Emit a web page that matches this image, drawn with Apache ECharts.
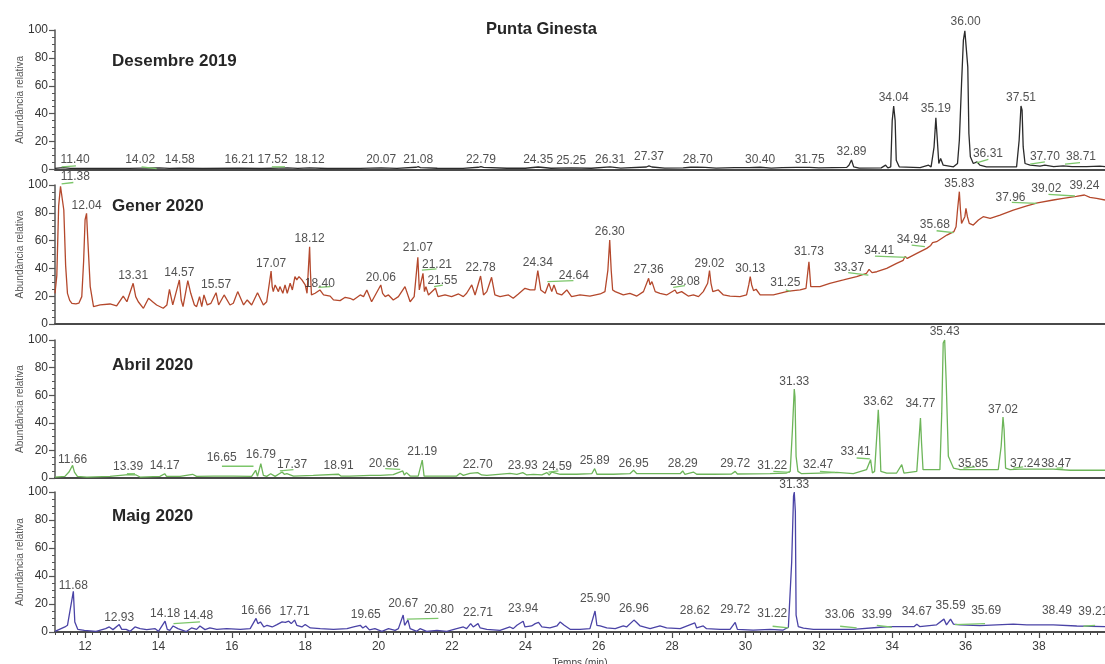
<!DOCTYPE html>
<html>
<head>
<meta charset="utf-8">
<script src="https://cdn.jsdelivr.net/npm/echarts@6/dist/echarts.min.js"></script>
<style>
  html, body { margin: 0; padding: 0; background: #ffffff; }
  #chart { width: 1105px; height: 664px; }
</style>
</head>
<body>
<div id="chart"></div>
<script>
// ---------- data ----------
const timeTicks = [12, 14, 16, 18, 20, 22, 24, 26, 28, 30, 32, 34, 36, 38];
const panelNames = ['Desembre 2019', 'Gener 2020', 'Abril 2020', 'Maig 2020'];

// [time (min), relative abundance]
const dec2019Trace = [
  [11.18,0.8],[11.40,1.3],[11.60,0.8],[12.50,0.7],[13.20,0.8],[14.02,1.2],[14.30,0.8],[14.58,1.0],
  [15.20,0.7],[16.21,1.0],[16.80,0.7],[17.52,1.1],[17.80,0.8],[18.12,1.2],[18.60,0.7],[19.50,0.8],
  [20.07,1.2],[20.50,0.8],[21.02,1.6],[21.08,2.0],[21.14,1.4],[21.60,0.9],[22.30,0.8],[22.72,1.6],
  [22.79,2.0],[22.86,1.5],[23.50,0.9],[24.00,0.9],[24.35,1.8],[24.70,0.9],[25.25,1.2],[25.80,0.9],
  [26.31,1.9],[26.60,1.0],[27.30,1.8],[27.37,2.6],[27.45,1.8],[27.80,1.0],[28.30,1.2],[28.50,1.6],
  [28.70,1.7],[28.90,1.5],[29.20,1.0],[29.70,1.3],[30.10,1.4],[30.40,1.6],[30.70,1.0],[31.00,1.4],
  [31.40,1.5],[31.75,1.5],[32.00,1.2],[32.40,1.4],[32.76,1.5],[32.82,3.1],[32.89,6.8],[32.95,1.9],
  [33.10,1.0],[33.70,1.2],[33.82,3.1],[33.88,1.2],[33.96,1.9],[34.00,35],[34.04,45.5],[34.08,35],
  [34.11,6.7],[34.19,1.9],[34.76,1.4],[34.99,3.1],[35.06,1.9],[35.14,16],[35.19,37],[35.23,21],
  [35.27,4.3],[35.32,7.9],[35.39,3.1],[35.67,1.9],[35.78,4.3],[35.83,21],[35.89,61.6],[35.94,92.7],
  [35.98,99.4],[36.00,100],[36.03,99],[36.06,73.6],[36.09,25.8],[36.13,9.1],[36.21,4.3],[36.31,5.5],
  [36.39,3.1],[36.57,1.9],[37.39,1.9],[37.46,21],[37.51,45.5],[37.54,42.5],[37.57,16.2],[37.62,4.3],
  [37.76,3.1],[38.03,2.4],[38.16,3.1],[38.40,2.0],[38.66,2.6],[38.90,2.0],[39.30,2.0],[39.66,2.4],[39.80,2.0]
];
const dec2019Peaks = [
  [11.40,0.5],[14.02,0.5],[14.58,0.5],[16.21,0.5],[17.52,0.5],[18.12,0.5],[20.07,0.5],[21.08,0.5],
  [22.79,0.5],[24.35,0.5],[25.25,0],[26.31,0.5],[27.37,2.4],[28.70,0.5],[30.40,0.5],[31.75,0.5],
  [32.89,6],[34.04,45.3],[35.19,36.9],[36.00,99.5],[36.31,4.7],[37.51,45.3],[37.70,2.7],[38.71,2.7]
];
// integration baselines: [t1, v1, t2, v2]
const dec2019Marks = [
  [11.36,1.9,11.75,2.6],[13.54,1.9,13.95,0.7],[17.09,1.9,17.45,1.9],
  [36.30,4.8,36.62,7.2],[37.76,3.8,38.16,5.5],[38.71,3.8,39.12,5.0]
];

const gen2020Trace = [
  [11.18,22],[11.23,35],[11.28,85],[11.33,99],[11.38,100],[11.42,82],[11.47,42],[11.52,22],[11.58,17],
  [11.64,14.9],[11.75,14.5],[11.83,15],[11.91,19.7],[11.96,45],[12.00,75],[12.04,79.6],[12.07,62.8],
  [12.14,26.9],[12.23,12.5],[12.41,13.7],[12.68,14.4],[12.86,13],[13.04,20.1],[13.14,16],[13.31,29.3],
  [13.38,19.7],[13.45,16],[13.59,11.3],[13.73,18.5],[13.84,16],[13.95,13.7],[14.13,11.3],[14.23,13.7],
  [14.30,24.9],[14.39,13.7],[14.45,19.7],[14.57,31.7],[14.62,17.3],[14.67,12.5],[14.80,31.2],[14.88,22.1],
  [14.98,13.7],[15.04,12.5],[15.12,19.7],[15.18,12.5],[15.24,20.9],[15.33,13.7],[15.43,14.9],[15.57,22.5],
  [15.64,13.7],[15.79,20.9],[15.95,13.7],[16.04,14.9],[16.16,23.3],[16.32,13.7],[16.42,17.3],[16.54,13.7],
  [16.70,22.5],[16.86,13.7],[16.95,16],[17.07,38.1],[17.10,26.9],[17.13,23.3],[17.18,28.1],[17.27,23.3],
  [17.31,26.9],[17.39,22.1],[17.45,28.1],[17.51,22.1],[17.59,29.3],[17.65,24.5],[17.72,34.1],[17.77,31.7],
  [17.83,34.1],[17.91,31.7],[17.95,32.9],[18.00,28.1],[18.05,22.1],[18.12,55.6],[18.14,38.8],[18.17,20.9],
  [18.27,22.1],[18.40,24.5],[18.50,20.9],[18.68,20.1],[18.77,17.3],[18.95,16.8],[19.09,19.2],[19.22,18.5],
  [19.31,17.3],[19.50,20.9],[19.59,19.7],[19.68,24.5],[19.81,16],[20.06,28.1],[20.11,22.1],[20.18,19.7],
  [20.27,20.9],[20.40,17.3],[20.54,19.7],[20.72,26.9],[20.86,16],[20.97,19.7],[21.07,48],[21.11,24.5],
  [21.21,36.5],[21.25,23.3],[21.29,26.9],[21.36,20.9],[21.55,25.7],[21.62,19.7],[21.81,20.9],[21.99,19.7],
  [22.18,21.6],[22.31,19.7],[22.40,22.1],[22.54,28.1],[22.63,20.9],[22.78,34.5],[22.86,20.9],[22.95,23.3],
  [23.08,33.6],[23.17,20.9],[23.31,19.7],[23.54,20.9],[23.67,18.5],[23.81,21.6],[23.99,25.7],[24.13,24.5],
  [24.26,24.5],[24.34,38.4],[24.42,24.5],[24.54,22.1],[24.64,29.3],[24.72,23.3],[24.78,28.1],[24.86,22.1],
  [24.99,20.9],[25.13,24.5],[25.26,19.7],[25.49,20.9],[25.76,20.1],[26.04,21.6],[26.17,23.3],[26.25,38.8],
  [26.30,60.4],[26.34,38.8],[26.38,24.5],[26.45,23.3],[26.67,20.9],[26.85,22.1],[27.04,20.1],[27.22,23.3],
  [27.36,32.9],[27.40,28.1],[27.45,30.5],[27.54,23.3],[27.67,22.1],[27.85,20.9],[28.08,24.5],[28.13,22.1],
  [28.26,23.3],[28.44,20.1],[28.58,20.9],[28.72,19.7],[28.85,23.3],[28.97,29.3],[29.02,38.4],[29.06,29.3],
  [29.11,23.3],[29.26,24.5],[29.40,20.9],[29.58,20.1],[29.85,19.7],[30.03,20.9],[30.09,28.1],[30.13,34.1],
  [30.17,28.1],[30.22,24],[30.29,25],[30.40,20.9],[30.76,20.9],[31.12,23.3],[31.25,23.8],[31.49,24.5],
  [31.65,25.7],[31.73,44.8],[31.78,26.9],[32.03,26.9],[32.30,29.3],[32.67,31.7],[33.03,34.1],[33.30,36.5],
  [33.37,39.3],[33.45,37],[33.58,37.6],[33.85,40],[34.12,43.6],[34.30,45.8],[34.35,48.5],[34.41,47.2],
  [34.67,50.8],[34.94,54.4],[35.05,56.5],[35.10,58.5],[35.21,59.2],[35.49,64],[35.68,66.4],[35.74,70],
  [35.78,82],[35.83,95.2],[35.86,82],[35.89,72.4],[35.94,71.2],[35.98,77.2],[36.01,83.2],[36.05,77.2],
  [36.10,72.4],[36.21,71.2],[36.35,74.8],[36.48,77.2],[36.67,76],[36.94,78.4],[37.30,82],[37.67,84.9],
  [37.96,87.2],[38.39,89.2],[38.66,90.4],[39.02,91.8],[39.24,92.8],[39.39,91.1],[39.57,90.4],[39.80,89.2]
];
const gen2020Peaks = [
  [11.38,99.5],[12.04,79],[13.31,28],[14.57,30.4],[15.57,22],[17.07,37.2],[18.12,54.7],[18.40,22.8],
  [20.06,27.1],[21.07,48.7],[21.21,36.5],[21.55,24.5],[22.78,34.3],[24.34,37.6],[24.64,28.3],[26.30,59.9],
  [27.36,32.4],[28.08,24],[29.02,36.7],[30.13,33.6],[31.25,23.2],[31.73,45.5],[33.37,34],[34.41,46],
  [34.94,54],[35.68,64.7],[35.83,94.7],[37.96,84.7],[39.02,90.6],[39.24,92.8]
];
const gen2020Marks = [
  [11.36,100.8,11.68,101.8],[18.36,26.4,18.68,26.9],[21.18,38.8,21.58,39.6],[21.51,26.9,21.75,28],
  [24.60,30.5,25.31,31.2],[28.03,26.4,28.35,27.6],[31.10,24.5,31.22,23.5],[32.80,36.9,33.35,35.2],
  [33.53,48.9,34.39,48],[34.53,56.8,34.89,55.6],[35.21,67.1,35.67,65.7],[37.26,87.5,37.94,86.8],
  [38.26,93.3,38.98,92.1]
];

const abr2020Trace = [
  [11.18,0.7],[11.45,1.2],[11.56,4.3],[11.66,9.2],[11.71,4.3],[11.79,1.2],[12.05,0.7],[12.68,1.2],
  [13.18,2.4],[13.39,2.2],[13.50,0.7],[14.04,1.2],[14.17,3.1],[14.22,1.2],[14.59,1.2],[14.93,2.7],
  [15.04,1.2],[15.50,1.4],[16.04,1.4],[16.54,1.2],[16.65,5.6],[16.70,1.2],[16.79,10.4],[16.86,1.9],
  [16.95,1.2],[17.06,3.1],[17.18,1.2],[17.37,4.3],[17.43,2.7],[17.50,3.1],[17.68,1.4],[18.22,1.9],
  [18.91,2.7],[18.97,1.4],[19.22,1.4],[19.77,1.9],[20.04,1.9],[20.40,2.4],[20.66,5.1],[20.70,2.2],
  [20.76,3.9],[20.86,1.4],[21.08,1.4],[21.19,13],[21.24,1.4],[22.13,1.4],[22.22,3.4],[22.31,1.9],
  [22.49,3.4],[22.70,3.9],[22.81,2.2],[22.95,1.9],[23.58,3.4],[23.77,2.7],[23.93,3.9],[24.04,2.2],
  [24.22,2.7],[24.45,2.2],[24.59,3.9],[24.65,2.2],[24.72,4.3],[24.95,2.7],[25.40,2.7],[25.81,3.1],
  [25.89,6.8],[25.95,2.7],[26.40,2.7],[26.85,3.1],[26.95,5.6],[27.04,3.1],[27.67,3.1],[28.22,3.1],
  [28.29,5.1],[28.35,2.7],[28.58,4.3],[28.67,2.7],[29.13,2.7],[29.62,2.9],[29.72,4.8],[29.78,2.9],
  [30.67,3.1],[31.12,3.6],[31.22,4.8],[31.28,35],[31.33,64.5],[31.35,59],[31.38,15.7],[31.43,4.8],
  [31.53,3.1],[32.03,3.6],[32.49,4.1],[32.94,3.1],[33.30,6],[33.41,13.3],[33.46,3.6],[33.52,4.8],
  [33.59,35],[33.62,49.5],[33.65,35],[33.69,4.8],[33.85,3.6],[34.12,3.6],[34.26,9.7],[34.32,3.6],
  [34.67,4.8],[34.73,27.8],[34.77,43.5],[34.80,25.4],[34.84,6],[35.30,6],[35.35,47],[35.39,97.8],
  [35.43,100],[35.47,71],[35.53,15.7],[35.67,7.2],[35.85,6],[36.57,6],[36.89,6],[36.97,23],
  [37.02,44.2],[37.05,35],[37.09,7.2],[37.21,6],[37.48,6.5],[38.39,6.5],[38.85,5.6],[39.80,5.6]
];
const abr2020Peaks = [
  [11.66,7],[13.39,1.7],[14.17,2.2],[16.65,8.2],[16.79,10.1],[17.37,3],[18.91,2.2],[20.66,3.6],
  [21.19,12.5],[22.70,2.9],[23.93,2.2],[24.59,1.7],[25.89,6],[26.95,4.1],[28.29,4.1],[29.72,3.6],
  [31.22,2.2],[31.33,63.3],[32.47,2.9],[33.41,12.5],[33.62,48.8],[34.77,47],[35.43,99.5],[35.85,3.6],
  [37.02,43.3],[37.24,4.1],[38.47,4.1]
];
const abr2020Marks = [
  [13.14,3.1,13.36,3.1],[15.73,8.5,16.59,8.5],[17.31,5.1,17.68,6.0],[20.18,6.8,20.59,6.3],
  [24.63,4.3,24.90,5.1],[30.76,4.8,31.21,4.1],[32.03,4.8,32.44,4.1],[33.03,14.5,33.39,13.8],
  [35.94,7.2,36.26,8.0],[37.30,7.2,37.57,8.0],[38.48,7.2,38.66,7.4]
];

const maig2020Trace = [
  [11.18,0.5],[11.45,3.6],[11.52,4.8],[11.68,29],[11.72,7.2],[11.80,1.9],[11.98,1.2],[12.30,0.5],
  [12.56,2.4],[12.66,3.6],[12.76,1.7],[12.93,5.3],[13.00,1.9],[13.12,1.9],[13.23,0.5],[13.36,3.6],
  [13.50,2.4],[13.68,1.7],[13.91,2.4],[14.00,0.5],[14.18,7.7],[14.24,1.9],[14.31,1.2],[14.40,4.3],
  [14.53,2.4],[14.76,0.3],[14.90,2.9],[15.04,1.9],[15.13,4.3],[15.27,1.7],[15.40,2.9],[15.59,1.9],
  [15.86,2.4],[16.23,1.9],[16.50,2.4],[16.66,9.7],[16.71,6.0],[16.78,7.2],[16.87,3.6],[16.96,4.8],
  [17.10,3.6],[17.23,5.3],[17.37,7.2],[17.46,6.8],[17.55,7.7],[17.62,6.0],[17.71,8.5],[17.77,4.8],
  [17.91,3.6],[18.00,5.3],[18.14,2.9],[18.41,2.4],[18.77,1.9],[19.14,2.4],[19.32,3.6],[19.50,4.8],
  [19.57,2.9],[19.65,4.3],[19.75,1.5],[19.90,2.4],[20.09,0.5],[20.27,2.4],[20.45,1.2],[20.54,2.4],
  [20.67,12.1],[20.71,4.8],[20.80,8.5],[20.86,2.4],[21.04,0.5],[21.13,2.4],[21.31,0.5],[21.59,1.2],
  [21.86,0.5],[22.13,2.4],[22.31,3.6],[22.40,2.4],[22.51,6.0],[22.58,3.6],[22.71,6.0],[22.77,2.9],
  [22.95,1.9],[23.31,1.2],[23.58,3.6],[23.67,2.4],[23.77,4.8],[23.94,7.7],[23.99,3.6],[24.17,4.3],
  [24.27,6.0],[24.36,6.8],[24.45,3.6],[24.67,2.9],[24.86,4.3],[24.95,7.2],[25.06,4.8],[25.22,1.9],
  [25.49,1.9],[25.76,2.4],[25.90,15],[25.95,4.8],[26.04,4.3],[26.22,2.9],[26.45,2.4],[26.67,4.3],
  [26.76,3.6],[26.96,8.5],[27.02,7.2],[27.13,4.3],[27.40,2.4],[27.67,4.3],[27.85,2.9],[28.22,2.4],
  [28.62,6.5],[28.67,2.9],[28.85,4.3],[28.94,2.4],[29.31,1.9],[29.58,1.9],[29.72,6.8],[29.78,1.9],
  [30.21,1.4],[30.67,1.9],[31.03,1.4],[31.17,3.4],[31.26,50],[31.31,97],[31.33,100],[31.36,86],
  [31.38,12],[31.44,3.9],[31.58,2.7],[31.85,1.9],[32.94,1.9],[33.67,3.4],[33.94,3.9],[34.30,3.9],
  [34.60,3.9],[34.67,5.6],[34.75,3.9],[35.21,5.1],[35.41,9.2],[35.48,5.1],[35.59,9.2],[35.67,5.6],
  [35.85,5.1],[36.39,4.6],[37.30,5.6],[37.67,5.1],[38.39,5.1],[39.03,4.3],[39.80,3.9]
];
const maig2020Peaks = [
  [11.68,26.4],[12.93,3.8],[14.18,6.9],[14.48,5.2],[16.66,8.6],[17.71,8.1],[19.65,6.2],[20.67,14.1],
  [20.80,9.3],[22.71,7.6],[23.94,10],[25.90,17.1],[26.96,10],[28.62,8.6],[29.72,9.3],[31.22,6.9],
  [31.33,99],[33.06,6.2],[33.99,6.2],[34.67,8.1],[35.59,12.4],[35.69,8.6],[38.49,8.6],[39.21,8.1]
];
const maig2020Marks = [
  [14.41,6.0,15.13,7.2],[20.77,9.2,21.63,9.7],[30.74,4.1,31.17,2.9],[32.58,4.1,33.03,2.9],
  [33.58,4.8,33.99,3.4],[35.71,5.3,36.53,6.0],[39.21,4.1,39.53,4.8]
];

// ---------- layout & style ----------
const FONT = '"Liberation Sans", Arial, sans-serif';
const X_MIN = 11.18, X_MAX = 39.8;
const frames = [
  { top: 30, height: 139.5 },
  { top: 185, height: 139 },
  { top: 340, height: 138 },
  { top: 492, height: 140 }
];
const nameTops = [53, 198, 356.5, 508];
const traceColors = ['#2b2b2b', '#b4482c', '#6db559', '#4a43a6'];
const markColor = '#7cc66a';
const textColor = '#262626';
// horizontal pixel nudges for crowded peak labels
const labelShift = [
  { '11.40': 12, '14.02': -19, '17.52': -15, '36.31': 11, '37.70': 17, '38.71': 16 },
  { '11.38': 13, '21.21': 14, '21.55': 7, '24.64': 25, '28.08': 10, '31.25': -6, '33.37': -20,
    '34.41': -28, '34.94': -15, '35.68': -19, '37.96': -27, '39.02': -30 },
  { '13.39': -8, '16.65': -34, '17.37': 10, '20.66': -19, '24.59': 10, '31.22': -18, '32.47': -18,
    '33.41': -15, '35.85': 13, '37.24': 14 },
  { '14.48': 22, '20.80': 31, '31.22': -18, '33.06': -18, '33.99': -15, '35.69': 32, '39.21': 10 }
];

const traces = [dec2019Trace, gen2020Trace, abr2020Trace, maig2020Trace];
const peaks = [dec2019Peaks, gen2020Peaks, abr2020Peaks, maig2020Peaks];
const marks = [dec2019Marks, gen2020Marks, abr2020Marks, maig2020Marks];

const minorTimeTicks = [];
for (let k = 56; k <= 199; k++) minorTimeTicks.push(Math.round(k * 20) / 100);

const grid = [], xAxis = [], yAxis = [], series = [];
const title = [{
  text: 'Punta Ginesta', left: 486, top: 20.5, padding: 0,
  textStyle: { fontFamily: FONT, fontSize: 16.5, fontWeight: 'bold', color: textColor, lineHeight: 17 }
}];

frames.forEach((f, i) => {
  grid.push({ left: 55, right: 0, top: f.top, height: f.height, containLabel: false, outerBoundsMode: 'none' });
  const bottom = i === 3;
  xAxis.push({
    type: 'value', gridIndex: i, min: X_MIN, max: X_MAX, position: 'bottom',
    axisLine: { show: true, lineStyle: { color: '#4a4a4a', width: 2 } },
    axisTick: bottom ? { show: true, customValues: timeTicks, length: 6, lineStyle: { color: '#4a4a4a', width: 1.2 } } : { show: false },
    axisLabel: bottom ? { show: true, customValues: timeTicks, fontFamily: FONT, fontSize: 12, color: '#3a3a3a', margin: 9 } : { show: false },
    splitLine: { show: false },
    name: bottom ? 'Temps (min)' : '', nameLocation: 'middle', nameGap: 26, nameMoveOverlap: false,
    nameTextStyle: { fontFamily: FONT, fontSize: 10, color: '#444' }
  });
  yAxis.push({
    type: 'value', gridIndex: i, min: 0, max: 100, interval: 20,
    axisLine: { show: true, lineStyle: { color: '#555', width: 1.5 } },
    axisTick: { show: true, length: 6, lineStyle: { color: '#555', width: 1.2 } },
    minorTick: { show: true, splitNumber: 4, length: 3, lineStyle: { color: '#555', width: 1 } },
    axisLabel: { fontFamily: FONT, fontSize: 12, color: '#333', margin: 7 },
    splitLine: { show: false },
    name: 'Abundància relativa', nameLocation: 'middle', nameGap: 30, nameMoveOverlap: false,
    nameTextStyle: { fontFamily: FONT, fontSize: 10, color: '#555' }
  });
  title.push({
    text: panelNames[i], left: 112, top: nameTops[i], padding: 0,
    textStyle: { fontFamily: FONT, fontSize: 17, fontWeight: 'bold', color: textColor, lineHeight: 17 }
  });

  series.push({
    type: 'line', xAxisIndex: i, yAxisIndex: i, data: traces[i],
    showSymbol: false, symbol: 'none', silent: true, clip: false,
    lineStyle: { color: traceColors[i], width: 1.3 }, z: 3
  });
  marks[i].forEach(m => {
    series.push({
      type: 'line', xAxisIndex: i, yAxisIndex: i, data: [[m[0], m[1]], [m[2], m[3]]],
      showSymbol: false, symbol: 'none', silent: true, clip: false,
      lineStyle: { color: markColor, width: 1.3 }, z: 4
    });
  });
  series.push({
    type: 'scatter', xAxisIndex: i, yAxisIndex: i, symbolSize: 0, silent: true, z: 5,
    data: peaks[i].map(p => {
      const txt = p[0].toFixed(2);
      return { value: [p[0], p[1]], label: { offset: [labelShift[i][txt] || 0, 0] } };
    }),
    label: {
      show: true, position: 'top', distance: 2,
      formatter: q => q.value[0].toFixed(2),
      fontFamily: FONT, fontSize: 12, color: textColor, lineHeight: 14
    }
  });
});

// fine ticks along the time axis
xAxis.push({
  type: 'value', gridIndex: 3, min: X_MIN, max: X_MAX, position: 'bottom',
  axisLine: { show: false },
  axisTick: { show: true, customValues: minorTimeTicks, length: 3, lineStyle: { color: '#4a4a4a', width: 1 } },
  axisLabel: { show: false },
  splitLine: { show: false }
});

const chart = echarts.init(document.getElementById('chart'), null, { renderer: 'canvas' });
chart.setOption({
  animation: false,
  backgroundColor: '#ffffff',
  title, grid, xAxis, yAxis, series
});
</script>
</body>
</html>
